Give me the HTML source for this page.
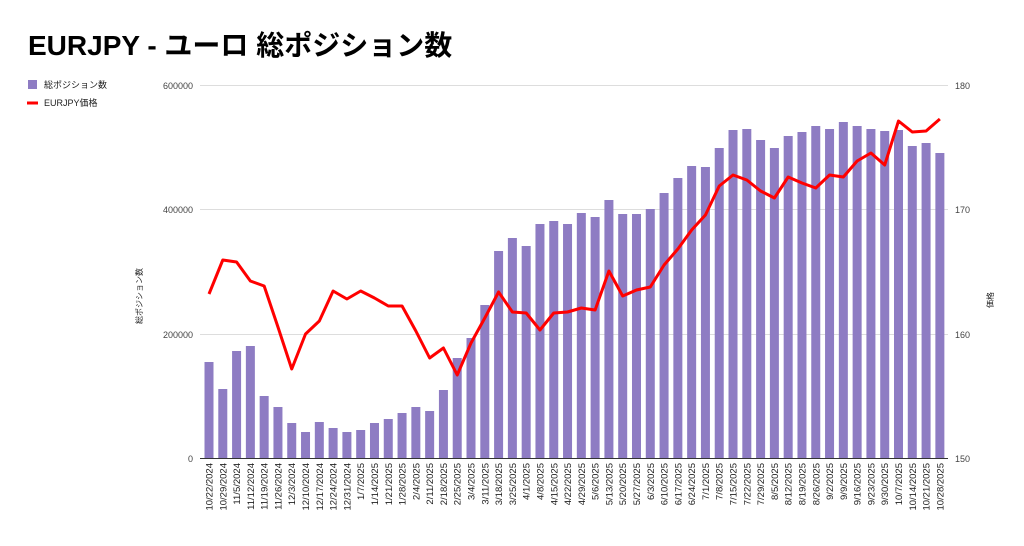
<!DOCTYPE html>
<html><head><meta charset="utf-8"><style>
body{margin:0;background:#fff;width:1024px;height:541px;overflow:hidden;font-family:"Liberation Sans","Noto Sans CJK JP",sans-serif}
</style></head><body>
<svg id="c" width="1024" height="541" xmlns="http://www.w3.org/2000/svg" font-family="Liberation Sans, Noto Sans CJK JP, sans-serif">
<text x="28" y="55" font-size="28" font-weight="bold" fill="#000">EURJPY - ユーロ 総ポジション数</text>
<rect x="28" y="80" width="9" height="9" fill="#8e7cc3"/>
<text x="44" y="88" font-size="9" fill="#222">総ポジション数</text>
<line x1="27" y1="103" x2="38" y2="103" stroke="#f00" stroke-width="3"/>
<text x="44" y="106" font-size="9" fill="#222">EURJPY価格</text>
<g stroke="#ddd" stroke-width="1">
<line x1="200" y1="85.5" x2="948" y2="85.5"/><line x1="200" y1="209.5" x2="948" y2="209.5"/>
<line x1="200" y1="334.5" x2="948" y2="334.5"/></g>
<line x1="200" y1="458.5" x2="948" y2="458.5" stroke="#333"/>
<g font-size="9" fill="#444" text-anchor="end">
<text x="193" y="89">600000</text><text x="193" y="213">400000</text><text x="193" y="338">200000</text><text x="193" y="462">0</text></g>
<g font-size="9" fill="#444">
<text x="955" y="89">180</text><text x="955" y="213">170</text><text x="955" y="338">160</text><text x="955" y="462">150</text></g>
<text transform="translate(142,296) rotate(-90)" font-size="8" fill="#222" text-anchor="middle">総ポジション数</text>
<text transform="translate(993,300) rotate(-90)" font-size="8" fill="#222" text-anchor="middle">価格</text>
<g id="bars"></g><g id="labs" font-size="9.5" fill="#222" text-anchor="end"></g>
<polyline id="ln" fill="none" stroke="#f00" stroke-width="3" stroke-linejoin="round"/>
</svg>
<script>
var d=["10/22/2024","10/29/2024","11/5/2024","11/12/2024","11/19/2024","11/26/2024","12/3/2024","12/10/2024","12/17/2024","12/24/2024","12/31/2024","1/7/2025","1/14/2025","1/21/2025","1/28/2025","2/4/2025","2/11/2025","2/18/2025","2/25/2025","3/4/2025","3/11/2025","3/18/2025","3/25/2025","4/1/2025","4/8/2025","4/15/2025","4/22/2025","4/29/2025","5/6/2025","5/13/2025","5/20/2025","5/27/2025","6/3/2025","6/10/2025","6/17/2025","6/24/2025","7/1/2025","7/8/2025","7/15/2025","7/22/2025","7/29/2025","8/5/2025","8/12/2025","8/19/2025","8/26/2025","9/2/2025","9/9/2025","9/16/2025","9/23/2025","9/30/2025","10/7/2025","10/14/2025","10/21/2025","10/28/2025"];
var b=[362,389,351,346,396,407,423,432,422,428,432,430,423,419,413,407,411,390,358,338,305,251,238,246,224,221,224,213,217,200,214,214,209,193,178,166,167,148,130,129,140,148,136,132,126,129,122,126,129,131,130,146,143,153];
var l=[294,260,262,281,286,327,369,334,321,291,299,291,298,306,306,331,358,348,375,343,318,292,312,313,330,313,312,308,310,271,296,290,287,265,249,230,215,186,175,180,191,198,177,183,188,175,177,161,153,165,121,132,131,119];
var ns="http://www.w3.org/2000/svg",B=document.getElementById("bars"),L=document.getElementById("labs"),pts=[];
for(var i=0;i<54;i++){var x=209+i*13.79;
var r=document.createElementNS(ns,"rect");r.setAttribute("x",x-4.5);r.setAttribute("y",b[i]);r.setAttribute("width",9);r.setAttribute("height",458-b[i]);r.setAttribute("fill","#8e7cc3");B.appendChild(r);
var t=document.createElementNS(ns,"text");t.setAttribute("transform","translate("+(x+3.5)+",463) rotate(-90)");t.textContent=d[i];L.appendChild(t);
pts.push(x+","+l[i]);}
document.getElementById("ln").setAttribute("points",pts.join(" "));
</script>
</body></html>
